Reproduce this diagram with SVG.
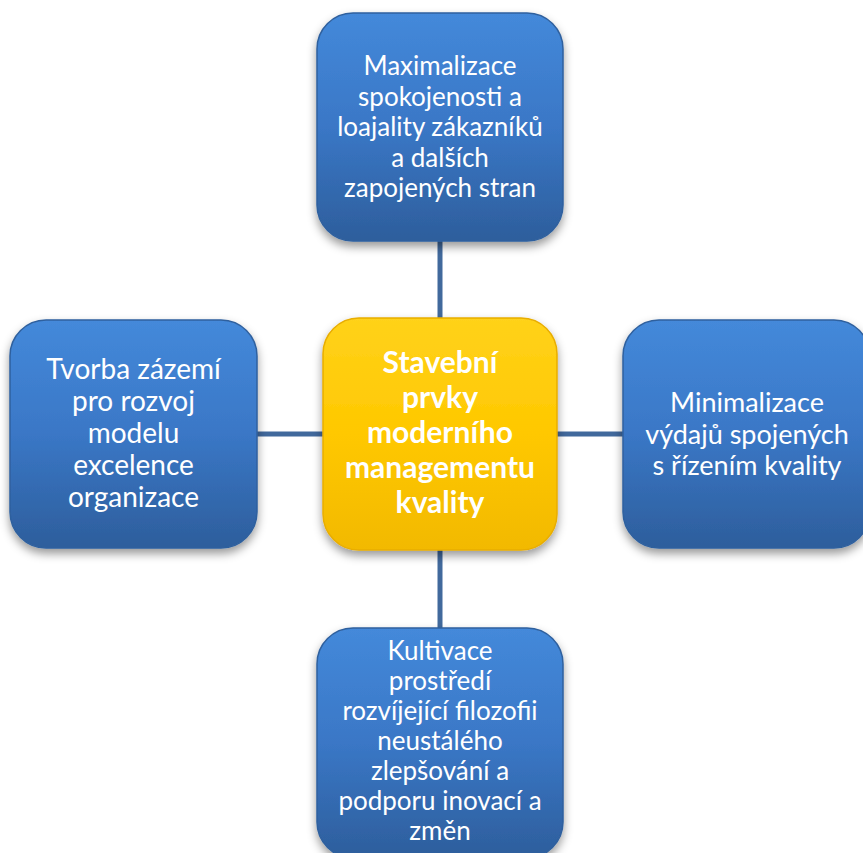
<svg xmlns="http://www.w3.org/2000/svg" width="863" height="853" viewBox="0 0 863 853">
<defs>
<linearGradient id="gBlue" x1="0" y1="0" x2="0" y2="1">
<stop offset="0" stop-color="#4489da"/>
<stop offset="0.5" stop-color="#3a77c6"/>
<stop offset="1" stop-color="#2d5e9c"/>
</linearGradient>
<linearGradient id="gGold" x1="0" y1="0" x2="0" y2="1">
<stop offset="0" stop-color="#ffd21a"/>
<stop offset="0.5" stop-color="#ffc800"/>
<stop offset="1" stop-color="#f2b900"/>
</linearGradient>
<filter id="sh" x="-20%" y="-20%" width="140%" height="140%">
<feDropShadow dx="0" dy="5" stdDeviation="5" flood-color="#000" flood-opacity="0.4"/>
</filter>
</defs>
<style>
.blue{fill:url(#gBlue);stroke:#2f609e;stroke-width:1.5;filter:url(#sh)}
.gold{fill:url(#gGold);stroke:#e8ad00;stroke-width:1.5;filter:url(#sh)}
.t{font-family:Lato,"Liberation Sans",sans-serif;font-size:26px;fill:#fff;text-anchor:middle}
.c{font-family:Lato,"Liberation Sans",sans-serif;font-size:30px;font-weight:bold;fill:#fff;text-anchor:middle}
.ln{stroke:#41699c;stroke-width:5;fill:none}
</style>
<rect width="863" height="853" fill="#fff"/>
<g id="connectors">
<line class="ln" x1="440" y1="240" x2="440" y2="320"/>
<line class="ln" x1="440" y1="548" x2="440" y2="630"/>
<line class="ln" x1="255" y1="434" x2="325" y2="434"/>
<line class="ln" x1="555" y1="434" x2="625" y2="434"/>
</g>
<g id="top">
<rect class="blue" x="317" y="13" width="246" height="228" rx="36"/>
<text class="t"><tspan x="440" y="75">Maximalizace</tspan><tspan x="440" y="105.5">spokojenosti a</tspan><tspan x="440" y="136">loajality zákazníků</tspan><tspan x="440" y="166.5">a dalších</tspan><tspan x="440" y="197">zapojených stran</tspan></text>
</g>
<g id="left">
<rect class="blue" x="10" y="320" width="247" height="228" rx="36"/>
<text class="t" style="font-size:28px"><tspan x="133.5" y="379">Tvorba zázemí</tspan><tspan x="133.5" y="411">pro rozvoj</tspan><tspan x="133.5" y="443">modelu</tspan><tspan x="133.5" y="475">excelence</tspan><tspan x="133.5" y="507">organizace</tspan></text>
</g>
<g id="right">
<rect class="blue" x="623" y="320" width="247" height="228" rx="36"/>
<text class="t" style="font-size:27px"><tspan x="747" y="412">Minimalizace</tspan><tspan x="747" y="444">výdajů spojených</tspan><tspan x="747" y="475">s řízením kvality</tspan></text>
</g>
<g id="bottom">
<rect class="blue" x="317" y="628" width="246" height="230" rx="36"/>
<text class="t"><tspan x="440" y="660">Kultivace</tspan><tspan x="440" y="690">prostředí</tspan><tspan x="440" y="720">rozvíjející filozofii</tspan><tspan x="440" y="750">neustálého</tspan><tspan x="440" y="780">zlepšování a</tspan><tspan x="440" y="810">podporu inovací a</tspan><tspan x="440" y="840">změn</tspan></text>
</g>
<g id="center">
<rect class="gold" x="323" y="318" width="234" height="232" rx="36"/>
<text class="c"><tspan x="440" y="373">Stavební</tspan><tspan x="440" y="408">prvky</tspan><tspan x="440" y="443">moderního</tspan><tspan x="440" y="478">managementu</tspan><tspan x="440" y="513">kvality</tspan></text>
</g>
</svg>
